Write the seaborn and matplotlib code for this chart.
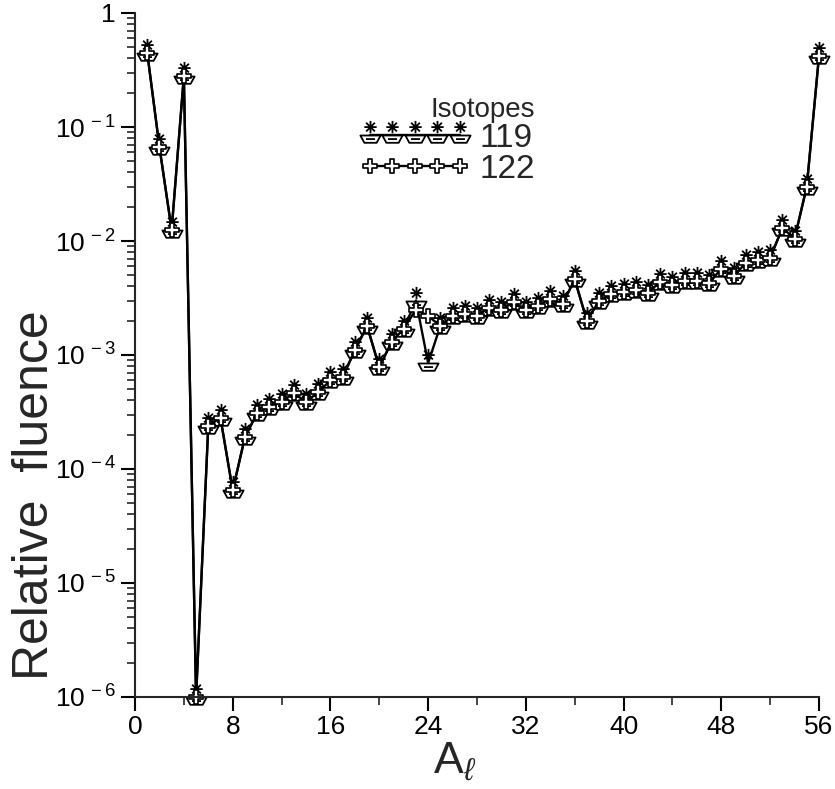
import numpy as np
import pandas as pd
import matplotlib
matplotlib.use("Agg")
import matplotlib.pyplot as plt
import seaborn as sns
from matplotlib.path import Path
from matplotlib.lines import Line2D
from matplotlib.ticker import FixedLocator, FuncFormatter, NullFormatter

# ---------------- data ----------------
a_l = list(range(1, 57))
fluence_119 = [
    0.45, 0.067, 0.0125, 0.28, 1.0e-6, 2.4e-4, 2.8e-4, 6.5e-5, 1.9e-4, 3.1e-4,
    3.5e-4, 3.9e-4, 4.6e-4, 3.9e-4, 4.7e-4, 6.0e-4, 6.4e-4, 1.1e-3, 1.8e-3, 7.8e-4,
    1.3e-3, 1.7e-3, 3.0e-3, 8.5e-4, 1.8e-3, 2.2e-3, 2.3e-3, 2.2e-3, 2.6e-3, 2.5e-3,
    2.9e-3, 2.5e-3, 2.7e-3, 3.1e-3, 2.8e-3, 4.6e-3, 2.0e-3, 3.0e-3, 3.4e-3, 3.6e-3,
    3.7e-3, 3.5e-3, 4.4e-3, 4.1e-3, 4.5e-3, 4.5e-3, 4.3e-3, 5.7e-3, 4.9e-3, 6.4e-3,
    6.8e-3, 7.1e-3, 1.3e-2, 1.05e-2, 3.0e-2, 0.42,
]
fluence_122 = [
    0.45, 0.067, 0.0125, 0.28, 1.0e-6, 2.4e-4, 2.8e-4, 6.5e-5, 1.9e-4, 3.1e-4,
    3.5e-4, 3.9e-4, 4.6e-4, 3.9e-4, 4.7e-4, 6.0e-4, 6.4e-4, 1.1e-3, 1.8e-3, 7.8e-4,
    1.3e-3, 1.7e-3, 2.5e-3, 2.2e-3, 1.8e-3, 2.2e-3, 2.3e-3, 2.2e-3, 2.6e-3, 2.5e-3,
    2.9e-3, 2.5e-3, 2.7e-3, 3.1e-3, 2.8e-3, 4.6e-3, 2.0e-3, 3.0e-3, 3.4e-3, 3.6e-3,
    3.7e-3, 3.5e-3, 4.4e-3, 4.1e-3, 4.5e-3, 4.5e-3, 4.3e-3, 5.7e-3, 4.9e-3, 6.4e-3,
    6.8e-3, 7.1e-3, 1.3e-2, 1.05e-2, 3.0e-2, 0.42,
]
isotopes = ["119", "122"]
x_ticks = [0, 8, 16, 24, 32, 40, 48, 56]
x_minor = [4, 12, 20, 28, 36, 44, 52]
y_exponents = [-6, -5, -4, -3, -2, -1, 0]

df = pd.DataFrame({
    "A": a_l * 2,
    "fluence": fluence_119 + fluence_122,
    "isotope": ["119"] * len(a_l) + ["122"] * len(a_l),
})

# ---------------- style ----------------
sns.set_style("ticks")
plt.rcParams["font.family"] = ["Liberation Sans", "DejaVu Sans"]
plt.rcParams["mathtext.fontset"] = "custom"
plt.rcParams["mathtext.rm"] = "Liberation Sans"
plt.rcParams["mathtext.it"] = "Liberation Sans:italic"
plt.rcParams["axes.linewidth"] = 1.5

# ---------------- custom markers ----------------
def cup_star_marker():
    verts, codes = [], []
    cy, r = 0.75, 0.55
    for ang in (0, 45, 90, 135):
        t = np.deg2rad(ang)
        dx, dy = r * np.cos(t), r * np.sin(t)
        verts += [(-dx, cy - dy), (dx, cy + dy)]
        codes += [Path.MOVETO, Path.LINETO]
    cup = [(-0.9, 0.0), (0.9, 0.0), (0.55, -0.65), (-0.55, -0.65), (-0.9, 0.0)]
    verts += cup
    codes += [Path.MOVETO, Path.LINETO, Path.LINETO, Path.LINETO, Path.CLOSEPOLY]
    verts += [(-0.4, -0.32), (0.4, -0.32)]
    codes += [Path.MOVETO, Path.LINETO]
    return Path(verts, codes)

def plus_outline_marker():
    a = 0.32
    v = [(-a, 1), (a, 1), (a, a), (1, a), (1, -a), (a, -a), (a, -1), (-a, -1),
         (-a, -a), (-1, -a), (-1, a), (-a, a), (-a, 1)]
    c = [Path.MOVETO] + [Path.LINETO] * 11 + [Path.CLOSEPOLY]
    return Path(v, c)

m119 = cup_star_marker()
m122 = plus_outline_marker()
marker_kw = {
    "119": dict(marker=m119, markersize=21, markerfacecolor="white",
                markeredgecolor="black", markeredgewidth=1.3),
    "122": dict(marker=m122, markersize=9.5, markerfacecolor="white",
                markeredgecolor="black", markeredgewidth=1.2),
}

# ---------------- figure ----------------
fig = plt.figure(figsize=(8.35, 7.89), dpi=100)
ax = fig.add_axes([135 / 835, 1 - 697 / 789, (819 - 135) / 835, (697 - 13) / 789])
ax.set_yscale("log")

for iso in isotopes:
    sub = df[df["isotope"] == iso]
    sns.lineplot(data=sub, x="A", y="fluence", ax=ax, color="black",
                 linewidth=1.7, clip_on=False, legend=False, **marker_kw[iso])

ax.set_xlim(0, 56)
ax.set_ylim(1e-6, 1)
ax.xaxis.set_major_locator(FixedLocator(x_ticks))
ax.xaxis.set_minor_locator(FixedLocator(x_minor))
y_major = [10.0 ** e for e in y_exponents]
y_minor = [m * 10.0 ** e for e in y_exponents[:-1] for m in range(2, 10)]
ax.yaxis.set_major_locator(FixedLocator(y_major))
ax.yaxis.set_minor_locator(FixedLocator(y_minor))
ax.yaxis.set_minor_formatter(NullFormatter())

def yfmt(v, pos):
    e = int(round(np.log10(v)))
    if e == 0:
        return "1"
    return r"$\mathregular{10^{\,%d}}$" % e

ax.yaxis.set_major_formatter(FuncFormatter(yfmt))
ax.tick_params(axis="both", which="major", direction="out", length=10, width=1.5,
               labelsize=19, colors="black")
ax.tick_params(axis="both", which="minor", direction="out", length=6, width=1.2)
ax.tick_params(axis="y", which="major", pad=4)
ax.tick_params(axis="x", which="major", pad=3)
sns.despine(ax=ax)

ax.set_ylabel("Relative  fluence", fontsize=36)
ax.yaxis.set_label_coords(-0.112, 0.295)
ax.set_xlabel(r"A$_{\ell}$", fontsize=32)
ax.xaxis.set_label_coords(0.468, -0.064)

handles = [Line2D([], [], color="black", linewidth=1.7, **marker_kw[iso]) for iso in isotopes]
leg = ax.legend(handles, isotopes, title="Isotopes", loc="upper left",
                bbox_to_anchor=(343 / 835, 1 - 80 / 789), bbox_transform=fig.transFigure,
                frameon=False, fontsize=24, title_fontsize=20, numpoints=5,
                handlelength=3.3, handletextpad=0.3, labelspacing=0.0,
                borderpad=0, alignment="right")

fig.savefig("out.png", dpi=100)
